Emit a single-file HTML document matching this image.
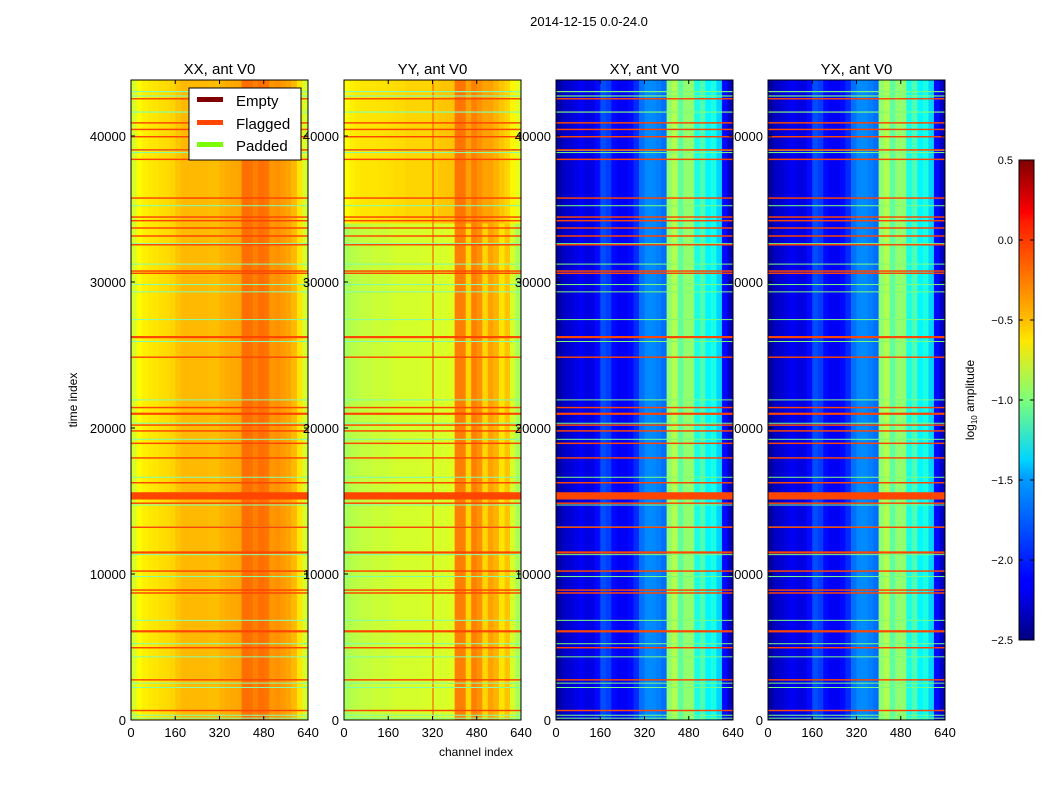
<!DOCTYPE html>
<html><head><meta charset="utf-8"><style>
html,body{margin:0;padding:0;background:#fff;}
svg{display:block;font-family:"Liberation Sans","DejaVu Sans",sans-serif;}
</style></head><body>
<svg id="chart" width="1050" height="800" viewBox="0 0 1050 800" xmlns="http://www.w3.org/2000/svg">
<rect width="1050" height="800" fill="#fff"/>
<text x="589" y="26" font-size="13" text-anchor="middle">2014-12-15 0.0-24.0</text>
<defs>
<linearGradient id="jetg" x1="0" y1="1" x2="0" y2="0">
<stop offset="0" stop-color="#00007f"/><stop offset="0.11" stop-color="#0000ff"/><stop offset="0.125" stop-color="#0000ff"/><stop offset="0.34" stop-color="#00a0ff"/><stop offset="0.375" stop-color="#00d4ff"/><stop offset="0.5" stop-color="#7dff7a"/><stop offset="0.625" stop-color="#ffe600"/><stop offset="0.66" stop-color="#ffc400"/><stop offset="0.875" stop-color="#ff1800"/><stop offset="0.89" stop-color="#ff0000"/><stop offset="1" stop-color="#7f0000"/>
</linearGradient>
</defs>
<g id="layer"></g>
</svg>
<script>
// ---- data ----
const panelTitles = ["XX, ant V0","YY, ant V0","XY, ant V0","YX, ant V0"];
const xTicks = [0,160,320,480,640];
const yTicks = [0,10000,20000,30000,40000];
const cbTicks = [0.5,0.0,-0.5,-1.0,-1.5,-2.0,-2.5];
const profXX = [-0.75,-0.62,-0.58,-0.56,-0.55,-0.53,-0.52,-0.5,-0.45,-0.42,-0.42,-0.42,-0.42,-0.42,-0.43,-0.43,-0.4,-0.38,-0.37,-0.36,-0.2,-0.2,-0.25,-0.2,-0.22,-0.32,-0.3,-0.33,-0.36,-0.42,-0.55,-0.75];
const profYYlow = [-0.88,-0.84,-0.82,-0.8,-0.8,-0.78,-0.78,-0.78,-0.77,-0.75,-0.75,-0.75,-0.75,-0.75,-0.74,-0.74,-0.74,-0.74,-0.74,-0.72,-0.25,-0.25,-0.5,-0.25,-0.3,-0.5,-0.35,-0.4,-0.55,-0.45,-0.75,-0.88];
const profYYhigh = [-0.62,-0.58,-0.56,-0.55,-0.55,-0.55,-0.54,-0.54,-0.53,-0.52,-0.52,-0.5,-0.5,-0.5,-0.5,-0.5,-0.48,-0.46,-0.45,-0.45,-0.22,-0.22,-0.35,-0.25,-0.3,-0.35,-0.35,-0.4,-0.45,-0.5,-0.6,-0.7];
const profXY = [-2.4,-2.3,-2.25,-2.2,-2.15,-2.2,-2.2,-2.1,-1.9,-1.95,-2.1,-2.15,-2.15,-2.1,-2.0,-1.8,-1.72,-1.72,-1.75,-1.8,-0.95,-0.85,-1.1,-0.95,-0.95,-1.3,-1.15,-1.4,-1.3,-1.5,-2.1,-2.3];
const yySplit = 34000;
const tMax = 43836;
const flagRows = [[42500,42600],[40850,40950],[40400,40500],[39900,40000],[39000,39100],[38350,38450],[35700,35800],[34400,34500],[34150,34250],[33650,33750],[33100,33200],[32500,32600],[30700,30800],[30550,30650],[26150,26300],[24800,24900],[21350,21450],[20900,21050],[20150,20250],[19750,19850],[18900,19000],[17900,18000],[16200,16300],[15100,15600],[14800,14900],[13150,13250],[11400,11550],[10150,10250],[8850,8950],[8650,8750],[6000,6150],[4900,5000],[2700,2800],[600,700]];
const padRows = [[43000,43080],[42700,42780],[41600,41680],[39000,39050],[38850,38900],[35200,35260],[32600,32660],[31200,31260],[29800,29860],[29300,29360],[27400,27460],[25900,25960],[21900,21960],[20300,20360],[19200,19260],[16600,16660],[14700,14760],[13200,13260],[11300,11360],[9800,9860],[6800,6860],[5200,5260],[4300,4360],[2500,2560],[2200,2260],[300,360],[100,160]];
// ---- helpers ----
const NS="http://www.w3.org/2000/svg";
const layer=document.getElementById('layer');
const panelX=[131,344,556,768], pw=177, pTop=80, pBot=720;
function xs(i,ch){return panelX[i]+ch/640*pw;}
function ys(t){return pBot-(t/tMax)*(pBot-pTop);}
function jet(v){let x=(v+2.5)/3;x=Math.max(0,Math.min(1,x));
 const r=Math.max(0,Math.min(1,1.5-Math.abs(4*x-3))),g=Math.max(0,Math.min(1,1.5-Math.abs(4*x-2))),b=Math.max(0,Math.min(1,1.5-Math.abs(4*x-1)));
 return `rgb(${Math.round(r*255)},${Math.round(g*255)},${Math.round(b*255)})`;}
function mk(tag,attrs,parent){const e=document.createElementNS(NS,tag);for(const k in attrs)e.setAttribute(k,attrs[k]);(parent||layer).appendChild(e);return e;}
function labels(i){
 const g=mk('g',{});
 
 
 yTicks.forEach(t=>{const tx=mk('text',{x:panelX[i]-5,y:ys(t)+5,'font-size':13,'text-anchor':'end'},g);tx.textContent=t;
  
  });
}
function panel(i){
 const g=mk('g',{});
 
 
 const prof=i===0?profXX:i===1?profYYlow:profXY;
 prof.forEach((v,k)=>{const r=mk('rect',{x:xs(i,k*20),y:pTop,width:xs(i,(k+1)*20)-xs(i,k*20)+0.5,height:pBot-pTop,fill:jet(v)},g);
  
  });
 if(i===1){profYYhigh.forEach((v,k)=>{const r=mk('rect',{x:xs(i,k*20),y:pTop,width:xs(i,(k+1)*20)-xs(i,k*20)+0.5,height:ys(yySplit)-pTop,fill:jet(v)},g);
  
  });
  const l=mk('rect',{x:xs(i,320),y:pTop,width:1,height:pBot-pTop,fill:'#ff4500'},g);
  
  }
 padRows.forEach(p=>{const r=mk('rect',{x:panelX[i],y:ys(p[1]),width:pw,height:Math.max(1,ys(p[0])-ys(p[1])),fill:i<2?'#80ffb0':'#7cfc7a'},g);
  
  });
 flagRows.forEach(p=>{const r=mk('rect',{x:panelX[i],y:ys(p[1]),width:pw,height:Math.max(1.2,ys(p[0])-ys(p[1])),fill:'#ff4500'},g);
  
  });
 mk('rect',{x:panelX[i],y:pTop,width:pw,height:pBot-pTop,fill:'none',stroke:'#000','stroke-width':1},g);
 xTicks.forEach(c=>{mk('line',{x1:xs(i,c),x2:xs(i,c),y1:pBot,y2:pBot-4,stroke:'#000'},g);mk('line',{x1:xs(i,c),x2:xs(i,c),y1:pTop,y2:pTop+4,stroke:'#000'},g);
  const tx=mk('text',{x:xs(i,c),y:737,'font-size':13,'text-anchor':'middle'},g);tx.textContent=c;
  
  });
 yTicks.forEach(t=>{mk('line',{x1:panelX[i],x2:panelX[i]+4,y1:ys(t),y2:ys(t),stroke:'#000'},g);mk('line',{x1:panelX[i]+pw,x2:panelX[i]+pw-4,y1:ys(t),y2:ys(t),stroke:'#000'},g);});
 const tt=mk('text',{x:panelX[i]+pw/2,y:74,'font-size':15,'text-anchor':'middle'},g);tt.textContent=panelTitles[i];
 
 
}
labels(0);panel(0);labels(1);panel(1);labels(2);labels(3);panel(2);panel(3);
// axis titles
let t=mk('text',{x:476,y:756,'font-size':12,'text-anchor':'middle'});t.textContent='channel index';


t=mk('text',{x:77,y:400,'font-size':12,'text-anchor':'middle',transform:'rotate(-90 77 400)'});t.textContent='time index';


// legend
const lg=mk('g',{});


mk('rect',{x:189,y:88,width:112,height:72,fill:'#fff',stroke:'#000'},lg);
[['Empty','#800000',100],['Flagged','#ff4500',123],['Padded','#7cfc00',145]].forEach(e=>{
 const li=mk('g',{},lg);
 
 
 mk('rect',{x:197,y:e[2]-3,width:26,height:5,fill:e[1]},li);
 const tx=mk('text',{x:236,y:e[2]+6,'font-size':15},li);tx.textContent=e[0];});
// colorbar
const cb=mk('g',{});


mk('rect',{x:1019,y:160,width:15,height:480,fill:'url(#jetg)',stroke:'#000'},cb);
cbTicks.forEach(v=>{const y=160+(0.5-v)/3*480;
 mk('line',{x1:1019,x2:1023,y1:y,y2:y,stroke:'#000'},cb);mk('line',{x1:1030,x2:1034,y1:y,y2:y,stroke:'#000'},cb);
 const tx=mk('text',{x:1013,y:y+4,'font-size':11,'text-anchor':'end'},cb);tx.textContent=v.toFixed(1).replace('-','\u2212');
 
 });
t=mk('text',{x:974,y:400,'font-size':12,'text-anchor':'middle',transform:'rotate(-90 974 400)'});
t.innerHTML='log<tspan font-size="8" dy="3">10</tspan><tspan dy="-3"> amplitude</tspan>';


</script>
</body></html>
